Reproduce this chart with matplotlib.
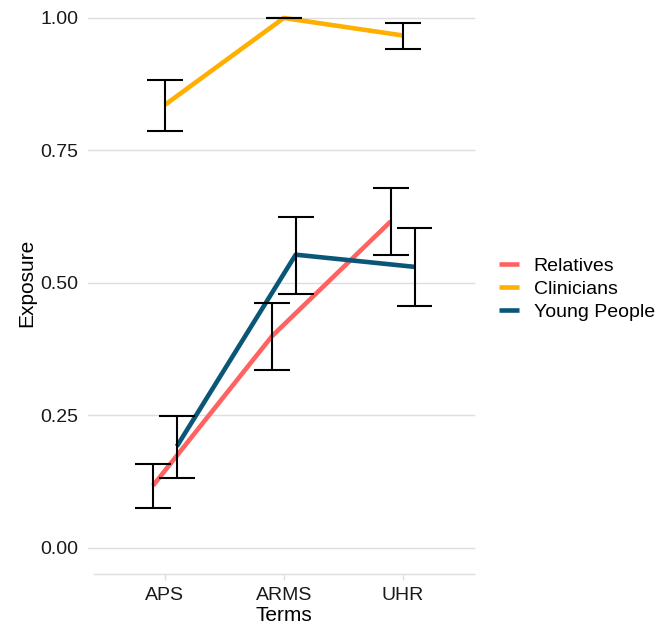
import matplotlib
matplotlib.use('Agg')
import matplotlib.pyplot as plt
import numpy as np

# data
terms = ['APS', 'ARMS', 'UHR']
groups = ['Relatives', 'Clinicians', 'Young People']
colors = ['#FF6361', '#FFAF00', '#0A5677']

relatives_mean = [0.117, 0.399, 0.616]
relatives_lo = [0.074, 0.336, 0.553]
relatives_hi = [0.157, 0.462, 0.679]

clinicians_mean = [0.836, 1.000, 0.967]
clinicians_lo = [0.787, 1.000, 0.942]
clinicians_hi = [0.882, 1.000, 0.990]

young_mean = [0.191, 0.553, 0.530]
young_lo = [0.132, 0.479, 0.457]
young_hi = [0.248, 0.625, 0.603]

means = [relatives_mean, clinicians_mean, young_mean]
los = [relatives_lo, clinicians_lo, young_lo]
his = [relatives_hi, clinicians_hi, young_hi]

plt.rcParams['font.family'] = ['Liberation Sans', 'DejaVu Sans']

fig = plt.figure(figsize=(6.7, 6.28), dpi=100)
ax = fig.add_axes([93.6 / 670, 54 / 628, 380.4 / 670, 582.5 / 628])

x = np.arange(len(terms))
dodge = [-0.1, 0.0, 0.1]
cap = 0.15

for i, g in enumerate(groups):
    xs = x + dodge[i]
    ax.plot(xs, means[i], color=colors[i], lw=3.3, label=g, zorder=3,
            solid_capstyle='butt')
    # error bars, drawn on top of the lines
    ax.vlines(xs, los[i], his[i], color='black', lw=1.5, zorder=4)
    ax.hlines(los[i], xs - cap, xs + cap, color='black', lw=1.5, zorder=4)
    ax.hlines(his[i], xs - cap, xs + cap, color='black', lw=1.5, zorder=4)

ax.set_xlim(-0.6, 2.6)
ax.set_ylim(-0.05, 1.05)
yt = [0.0, 0.25, 0.5, 0.75, 1.0]
ax.set_yticks(yt)
ax.set_yticklabels(['0.00', '0.25', '0.50', '0.75', '1.00'])
ax.set_xticks(x)
ax.set_xticklabels(terms)

for y in yt:
    ax.axhline(y, xmin=-0.014, xmax=1, color='#DEDEDE', lw=1.0, zorder=1,
               clip_on=False)

for s in ['top', 'right', 'left']:
    ax.spines[s].set_visible(False)
ax.spines['bottom'].set_color('#DEDEDE')
ax.spines['bottom'].set_linewidth(1.0)

ax.tick_params(axis='y', length=0, pad=11, labelsize=14, labelcolor='#1A1A1A')
ax.tick_params(axis='x', length=4, width=1.0, color='#DEDEDE', pad=5,
               labelsize=14, labelcolor='#1A1A1A')

ax.set_xlabel('Terms', fontsize=15, color='black', labelpad=1.5)
ax.set_ylabel('Exposure', fontsize=15, color='black', labelpad=3)

ax.legend(loc='center left', bbox_to_anchor=(489 / 670, 1 - 289 / 628),
          bbox_transform=fig.transFigure, frameon=False, fontsize=14,
          handlelength=1.05, handletextpad=0.75, labelspacing=0.28,
          borderpad=0)

fig.savefig('out.png', dpi=100)
